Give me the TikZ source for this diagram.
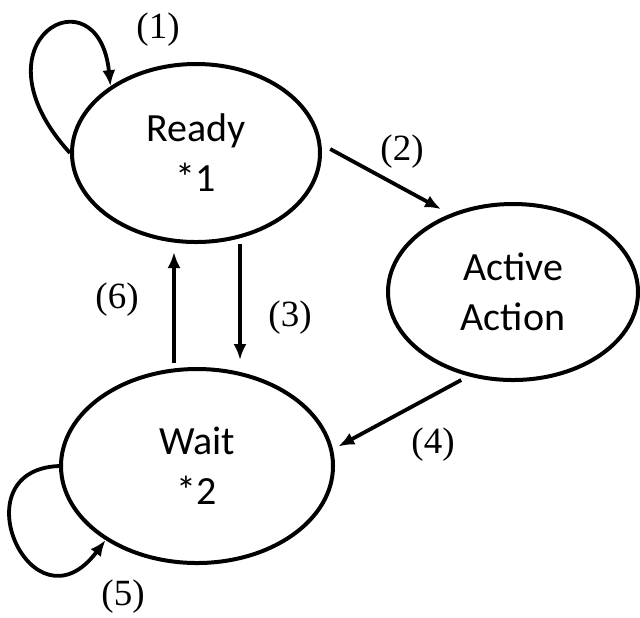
\documentclass[tikz,border=0pt]{standalone}
\usepackage{fontspec}
\setmainfont{Liberation Serif}
\newfontfamily\statefont{Carlito}
\usetikzlibrary{shapes.geometric,arrows.meta}
\tikzset{
  state/.style={draw,ellipse,line width=2pt,inner sep=0pt,align=center,
    font=\statefont\fontsize{20}{25}\selectfont},
  trans/.style={line width=1.9pt,-{Latex[length=8pt,width=6.5pt]}},
  num/.style={font=\fontsize{18.5}{20}\selectfont},
}
\begin{document}
\begin{tikzpicture}[x=0.5pt,y=-0.5pt]
\useasboundingbox (0,0) rectangle (640,617);

\node[state,minimum width=124pt,minimum height=89pt] (ready) at (196,153) {Ready\\*1};
\node[state,minimum width=125pt,minimum height=88pt] (active) at (513,292) {Active\\Action};
\node[state,minimum width=136pt,minimum height=97pt] (wait) at (197,466) {Wait\\*2};

\draw[trans] (ready.west) .. controls +(-103,-113) and +(-12,-118) .. (ready.142);
\draw[trans,shorten <=5pt,shorten >=5pt] (ready.4) -- (active.129);
\draw[trans,shorten >=3.5pt] ([xshift=22pt]ready.south) -- ([xshift=22pt]ready.south |- wait.north);
\draw[trans,shorten <=4pt,shorten >=3pt] (active.242) -- (wait.7);
\draw[trans] (wait.west) .. controls +(-102,4) and +(-73,97) .. (wait.219);
\draw[trans,shorten <=2pt,shorten >=4pt] ([xshift=-11.5pt]wait.north) -- ([xshift=-11.5pt]wait.north |- ready.south);

\node[num] (n1) at (158,30) {(1)};
\node[num] (n2) at (402,152) {(2)};
\node[num] (n3) at (290,318) {(3)};
\node[num] (n4) at (433,445) {(4)};
\node[num] (n5) at (123,597) {(5)};
\node[num] (n6) at (117,300) {(6)};
\end{tikzpicture}
\end{document}
